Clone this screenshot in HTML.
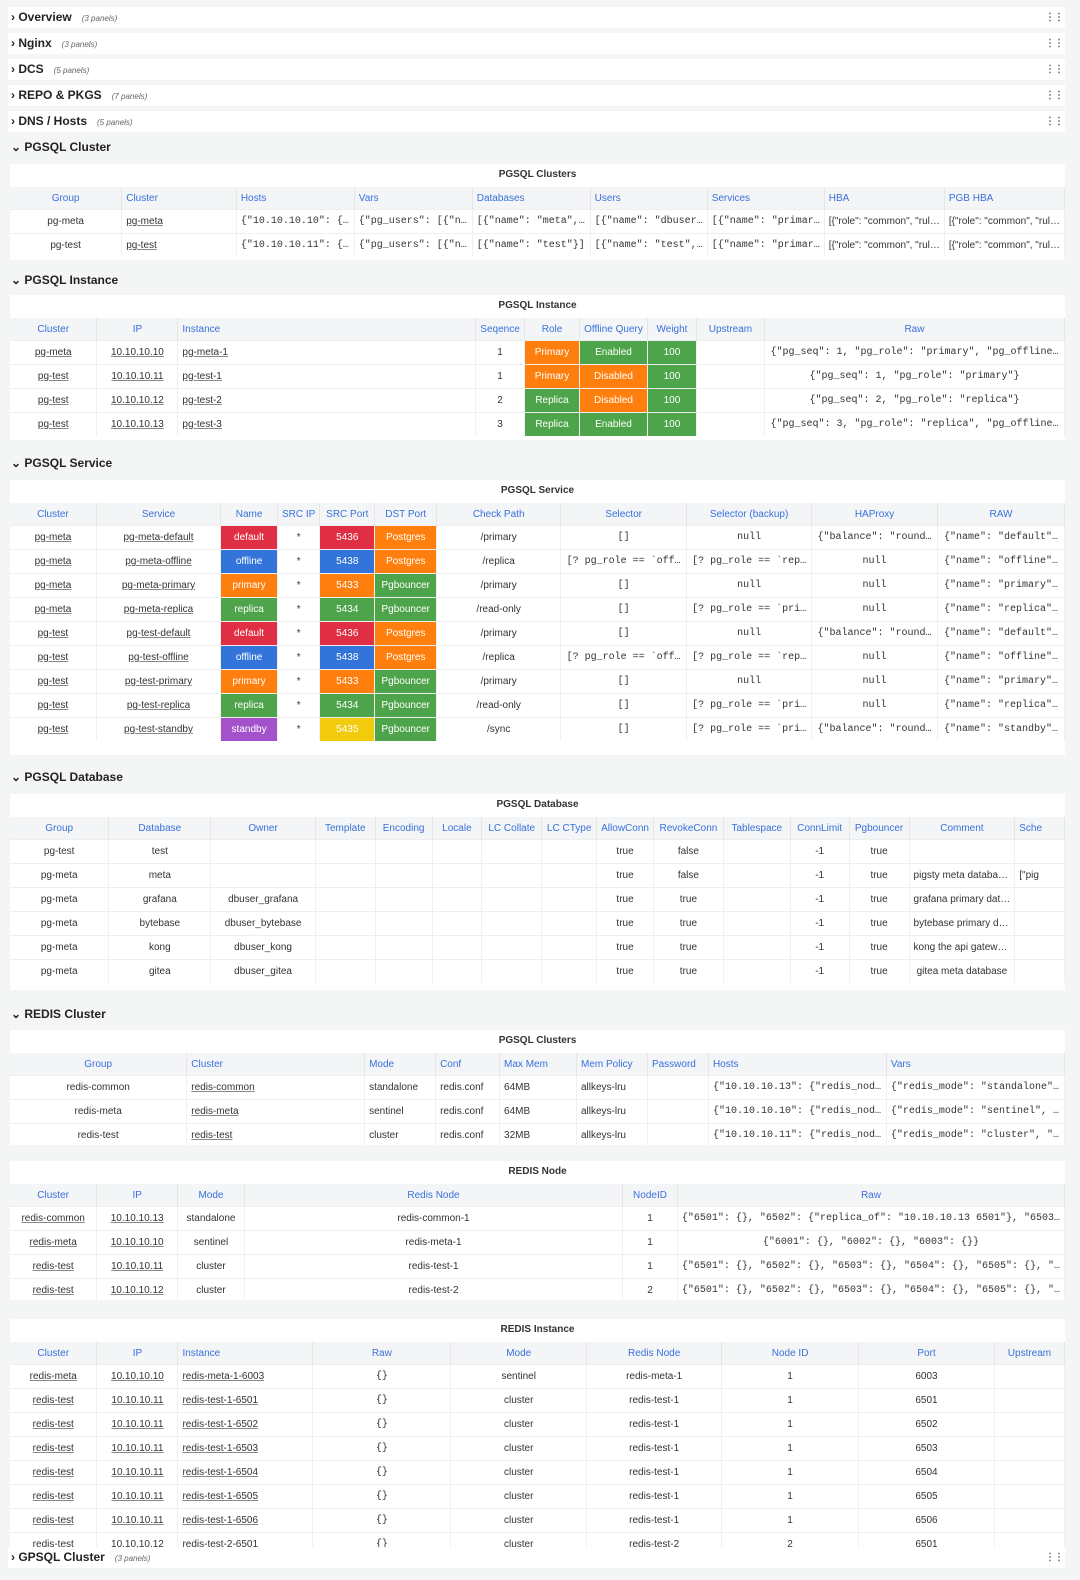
<!DOCTYPE html><html><head><meta charset="utf-8"><style>
body{margin:0;width:1080px;height:1580px;background:#f4f5f5;font-family:"Liberation Sans",sans-serif;position:relative;overflow:hidden;color:#222}
.r{position:absolute;left:8px;width:1057px;height:21px;background:#fff;font-weight:bold;font-size:12px;line-height:21px;padding-left:3px;box-sizing:border-box}
.r.o{background:none}
.r i{font-weight:normal;font-size:8px;color:#666;margin-left:10px}
.r b{position:absolute;right:2px;top:0;font-size:10px;color:#666;letter-spacing:-1px}
.p{position:absolute;left:10px;width:1055px;background:#fff;overflow:hidden}
.p .ti{height:23px;line-height:22px;text-align:center;font-size:10px;font-weight:bold;color:#333}
table{border-collapse:collapse;table-layout:fixed;font-size:10px;color:#333}
th{height:22px;color:#3871dc;font-weight:normal;background:#f4f5f7;border-right:1px solid #e6e6e6;white-space:nowrap;overflow:hidden;padding:0 4px}
td{height:23px;border-top:1px solid #eee;border-right:1px solid #f0f0f0;white-space:nowrap;overflow:hidden;text-overflow:ellipsis;text-align:center;padding:0 4px}
.l{text-align:left}.m{font-family:"Liberation Mono",monospace}
.u{text-decoration:underline;text-decoration-color:#888}
.R{background:#e02f44;color:#fff}.O{background:#ff7f0e;color:#fff}.B{background:#3274d9;color:#fff}.G{background:#4ea44a;color:#fff}.P{background:#a352cc;color:#fff}.Y{background:#f2cc0c;color:#fff}
</style></head><body>
<div class="r" style="top:7px">› Overview<i>(3 panels)</i><b>⋮⋮</b></div>
<div class="r" style="top:33px">› Nginx<i>(3 panels)</i><b>⋮⋮</b></div>
<div class="r" style="top:59px">› DCS<i>(5 panels)</i><b>⋮⋮</b></div>
<div class="r" style="top:85px">› REPO &amp; PKGS<i>(7 panels)</i><b>⋮⋮</b></div>
<div class="r" style="top:111px">› DNS / Hosts<i>(5 panels)</i><b>⋮⋮</b></div>
<div class="r o" style="top:137px">⌄ PGSQL Cluster</div>

<div class="p" style="top:164px;height:96px"><div class="ti">PGSQL Clusters</div>
<table><colgroup><col style="width:115px"><col style="width:118px"><col style="width:118px"><col style="width:118px"><col style="width:118px"><col style="width:117px"><col style="width:116px"><col style="width:118px"><col style="width:117px"></colgroup>
<tr><th>Group</th><th class="l">Cluster</th><th class="l">Hosts</th><th class="l">Vars</th><th class="l">Databases</th><th class="l">Users</th><th class="l">Services</th><th class="l">HBA</th><th class="l">PGB HBA</th></tr>
<tr><td>pg-meta</td><td class="l u">pg-meta</td><td class="l m">{"10.10.10.10": {…</td><td class="l m">{"pg_users": [{"n…</td><td class="l m">[{"name": "meta",…</td><td class="l m">[{"name": "dbuser…</td><td class="l m">[{"name": "primar…</td><td class="l">[{"role": "common", "rul…</td><td class="l">[{"role": "common", "rul…</td></tr>
<tr><td>pg-test</td><td class="l u">pg-test</td><td class="l m">{"10.10.10.11": {…</td><td class="l m">{"pg_users": [{"n…</td><td class="l m">[{"name": "test"}]</td><td class="l m">[{"name": "test",…</td><td class="l m">[{"name": "primar…</td><td class="l">[{"role": "common", "rul…</td><td class="l">[{"role": "common", "rul…</td></tr>
</table></div>

<div class="r o" style="top:270px">⌄ PGSQL Instance</div>
<div class="p" style="top:295px;height:145px"><div class="ti">PGSQL Instance</div>
<table><colgroup><col style="width:87px"><col style="width:81px"><col style="width:298px"><col style="width:49px"><col style="width:55px"><col style="width:68px"><col style="width:49px"><col style="width:68px"><col style="width:300px"></colgroup>
<tr><th>Cluster</th><th>IP</th><th class="l">Instance</th><th>Seqence</th><th>Role</th><th>Offline Query</th><th>Weight</th><th>Upstream</th><th>Raw</th></tr>
<tr><td class="u">pg-meta</td><td class="u">10.10.10.10</td><td class="l u">pg-meta-1</td><td>1</td><td class="O">Primary</td><td class="G">Enabled</td><td class="G">100</td><td></td><td class="m">{"pg_seq": 1, "pg_role": "primary", "pg_offline…</td></tr>
<tr><td class="u">pg-test</td><td class="u">10.10.10.11</td><td class="l u">pg-test-1</td><td>1</td><td class="O">Primary</td><td class="O">Disabled</td><td class="G">100</td><td></td><td class="m">{"pg_seq": 1, "pg_role": "primary"}</td></tr>
<tr><td class="u">pg-test</td><td class="u">10.10.10.12</td><td class="l u">pg-test-2</td><td>2</td><td class="G">Replica</td><td class="O">Disabled</td><td class="G">100</td><td></td><td class="m">{"pg_seq": 2, "pg_role": "replica"}</td></tr>
<tr><td class="u">pg-test</td><td class="u">10.10.10.13</td><td class="l u">pg-test-3</td><td>3</td><td class="G">Replica</td><td class="G">Enabled</td><td class="G">100</td><td></td><td class="m">{"pg_seq": 3, "pg_role": "replica", "pg_offline…</td></tr>
</table></div>

<div class="r o" style="top:453px">⌄ PGSQL Service</div>
<div class="p" style="top:480px;height:275px"><div class="ti">PGSQL Service</div>
<table><colgroup><col style="width:87px"><col style="width:125px"><col style="width:57px"><col style="width:40px"><col style="width:55px"><col style="width:62px"><col style="width:125px"><col style="width:126px"><col style="width:125px"><col style="width:126px"><col style="width:127px"></colgroup>
<tr><th>Cluster</th><th>Service</th><th>Name</th><th>SRC IP</th><th>SRC Port</th><th>DST Port</th><th>Check Path</th><th>Selector</th><th>Selector (backup)</th><th>HAProxy</th><th>RAW</th></tr>
<tr><td class="u">pg-meta</td><td class="u">pg-meta-default</td><td class="R">default</td><td>*</td><td class="R">5436</td><td class="O">Postgres</td><td>/primary</td><td class="m">[]</td><td class="m">null</td><td class="m">{"balance": "round…</td><td class="m">{"name": "default"…</td></tr>
<tr><td class="u">pg-meta</td><td class="u">pg-meta-offline</td><td class="B">offline</td><td>*</td><td class="B">5438</td><td class="O">Postgres</td><td>/replica</td><td class="m">[? pg_role == `off…</td><td class="m">[? pg_role == `rep…</td><td class="m">null</td><td class="m">{"name": "offline"…</td></tr>
<tr><td class="u">pg-meta</td><td class="u">pg-meta-primary</td><td class="O">primary</td><td>*</td><td class="O">5433</td><td class="G">Pgbouncer</td><td>/primary</td><td class="m">[]</td><td class="m">null</td><td class="m">null</td><td class="m">{"name": "primary"…</td></tr>
<tr><td class="u">pg-meta</td><td class="u">pg-meta-replica</td><td class="G">replica</td><td>*</td><td class="G">5434</td><td class="G">Pgbouncer</td><td>/read-only</td><td class="m">[]</td><td class="m">[? pg_role == `pri…</td><td class="m">null</td><td class="m">{"name": "replica"…</td></tr>
<tr><td class="u">pg-test</td><td class="u">pg-test-default</td><td class="R">default</td><td>*</td><td class="R">5436</td><td class="O">Postgres</td><td>/primary</td><td class="m">[]</td><td class="m">null</td><td class="m">{"balance": "round…</td><td class="m">{"name": "default"…</td></tr>
<tr><td class="u">pg-test</td><td class="u">pg-test-offline</td><td class="B">offline</td><td>*</td><td class="B">5438</td><td class="O">Postgres</td><td>/replica</td><td class="m">[? pg_role == `off…</td><td class="m">[? pg_role == `rep…</td><td class="m">null</td><td class="m">{"name": "offline"…</td></tr>
<tr><td class="u">pg-test</td><td class="u">pg-test-primary</td><td class="O">primary</td><td>*</td><td class="O">5433</td><td class="G">Pgbouncer</td><td>/primary</td><td class="m">[]</td><td class="m">null</td><td class="m">null</td><td class="m">{"name": "primary"…</td></tr>
<tr><td class="u">pg-test</td><td class="u">pg-test-replica</td><td class="G">replica</td><td>*</td><td class="G">5434</td><td class="G">Pgbouncer</td><td>/read-only</td><td class="m">[]</td><td class="m">[? pg_role == `pri…</td><td class="m">null</td><td class="m">{"name": "replica"…</td></tr>
<tr><td class="u">pg-test</td><td class="u">pg-test-standby</td><td class="P">standby</td><td>*</td><td class="Y">5435</td><td class="G">Pgbouncer</td><td>/sync</td><td class="m">[]</td><td class="m">[? pg_role == `pri…</td><td class="m">{"balance": "round…</td><td class="m">{"name": "standby"…</td></tr>
</table></div>

<div class="r o" style="top:767px">⌄ PGSQL Database</div>
<div class="p" style="top:794px;height:196px"><div class="ti">PGSQL Database</div>
<table><colgroup><col style="width:100px"><col style="width:103px"><col style="width:105px"><col style="width:60px"><col style="width:57px"><col style="width:50px"><col style="width:60px"><col style="width:55px"><col style="width:56px"><col style="width:70px"><col style="width:67px"><col style="width:59px"><col style="width:60px"><col style="width:103px"><col style="width:50px"></colgroup>
<tr><th>Group</th><th>Database</th><th>Owner</th><th>Template</th><th>Encoding</th><th>Locale</th><th>LC Collate</th><th>LC CType</th><th>AllowConn</th><th>RevokeConn</th><th>Tablespace</th><th>ConnLimit</th><th>Pgbouncer</th><th>Comment</th><th class="l">Sche</th></tr>
<tr><td>pg-test</td><td>test</td><td></td><td></td><td></td><td></td><td></td><td></td><td>true</td><td>false</td><td></td><td>-1</td><td>true</td><td></td><td></td></tr>
<tr><td>pg-meta</td><td>meta</td><td></td><td></td><td></td><td></td><td></td><td></td><td>true</td><td>false</td><td></td><td>-1</td><td>true</td><td class="l">pigsty meta databa…</td><td class="l">["pig</td></tr>
<tr><td>pg-meta</td><td>grafana</td><td>dbuser_grafana</td><td></td><td></td><td></td><td></td><td></td><td>true</td><td>true</td><td></td><td>-1</td><td>true</td><td class="l">grafana primary dat…</td><td></td></tr>
<tr><td>pg-meta</td><td>bytebase</td><td>dbuser_bytebase</td><td></td><td></td><td></td><td></td><td></td><td>true</td><td>true</td><td></td><td>-1</td><td>true</td><td class="l">bytebase primary d…</td><td></td></tr>
<tr><td>pg-meta</td><td>kong</td><td>dbuser_kong</td><td></td><td></td><td></td><td></td><td></td><td>true</td><td>true</td><td></td><td>-1</td><td>true</td><td class="l">kong the api gatew…</td><td></td></tr>
<tr><td>pg-meta</td><td>gitea</td><td>dbuser_gitea</td><td></td><td></td><td></td><td></td><td></td><td>true</td><td>true</td><td></td><td>-1</td><td>true</td><td>gitea meta database</td><td></td></tr>
</table></div>

<div class="r o" style="top:1004px">⌄ REDIS Cluster</div>
<div class="p" style="top:1030px;height:115px"><div class="ti">PGSQL Clusters</div>
<table><colgroup><col style="width:177px"><col style="width:178px"><col style="width:71px"><col style="width:64px"><col style="width:77px"><col style="width:71px"><col style="width:61px"><col style="width:178px"><col style="width:178px"></colgroup>
<tr><th>Group</th><th class="l">Cluster</th><th class="l">Mode</th><th class="l">Conf</th><th class="l">Max Mem</th><th class="l">Mem Policy</th><th class="l">Password</th><th class="l">Hosts</th><th class="l">Vars</th></tr>
<tr><td>redis-common</td><td class="l u">redis-common</td><td class="l">standalone</td><td class="l">redis.conf</td><td class="l">64MB</td><td class="l">allkeys-lru</td><td></td><td class="l m">{"10.10.10.13": {"redis_nod…</td><td class="l m">{"redis_mode": "standalone"…</td></tr>
<tr><td>redis-meta</td><td class="l u">redis-meta</td><td class="l">sentinel</td><td class="l">redis.conf</td><td class="l">64MB</td><td class="l">allkeys-lru</td><td></td><td class="l m">{"10.10.10.10": {"redis_nod…</td><td class="l m">{"redis_mode": "sentinel", …</td></tr>
<tr><td>redis-test</td><td class="l u">redis-test</td><td class="l">cluster</td><td class="l">redis.conf</td><td class="l">32MB</td><td class="l">allkeys-lru</td><td></td><td class="l m">{"10.10.10.11": {"redis_nod…</td><td class="l m">{"redis_mode": "cluster", "…</td></tr>
</table></div>

<div class="p" style="top:1161px;height:139px"><div class="ti">REDIS Node</div>
<table><colgroup><col style="width:87px"><col style="width:81px"><col style="width:67px"><col style="width:382px"><col style="width:55px"><col style="width:383px"></colgroup>
<tr><th>Cluster</th><th>IP</th><th>Mode</th><th>Redis Node</th><th>NodeID</th><th>Raw</th></tr>
<tr><td class="u">redis-common</td><td class="u">10.10.10.13</td><td>standalone</td><td>redis-common-1</td><td>1</td><td class="m">{"6501": {}, "6502": {"replica_of": "10.10.10.13 6501"}, "6503…</td></tr>
<tr><td class="u">redis-meta</td><td class="u">10.10.10.10</td><td>sentinel</td><td>redis-meta-1</td><td>1</td><td class="m">{"6001": {}, "6002": {}, "6003": {}}</td></tr>
<tr><td class="u">redis-test</td><td class="u">10.10.10.11</td><td>cluster</td><td>redis-test-1</td><td>1</td><td class="m">{"6501": {}, "6502": {}, "6503": {}, "6504": {}, "6505": {}, "…</td></tr>
<tr><td class="u">redis-test</td><td class="u">10.10.10.12</td><td>cluster</td><td>redis-test-2</td><td>2</td><td class="m">{"6501": {}, "6502": {}, "6503": {}, "6504": {}, "6505": {}, "…</td></tr>
</table></div>

<div class="p" style="top:1319px;height:229px"><div class="ti">REDIS Instance</div>
<table><colgroup><col style="width:87px"><col style="width:81px"><col style="width:135px"><col style="width:138px"><col style="width:136px"><col style="width:135px"><col style="width:137px"><col style="width:136px"><col style="width:70px"></colgroup>
<tr><th>Cluster</th><th>IP</th><th class="l">Instance</th><th>Raw</th><th>Mode</th><th>Redis Node</th><th>Node ID</th><th>Port</th><th>Upstream</th></tr>
<tr><td class="u">redis-meta</td><td class="u">10.10.10.10</td><td class="l u">redis-meta-1-6003</td><td class="m">{}</td><td>sentinel</td><td>redis-meta-1</td><td>1</td><td>6003</td><td></td></tr>
<tr><td class="u">redis-test</td><td class="u">10.10.10.11</td><td class="l u">redis-test-1-6501</td><td class="m">{}</td><td>cluster</td><td>redis-test-1</td><td>1</td><td>6501</td><td></td></tr>
<tr><td class="u">redis-test</td><td class="u">10.10.10.11</td><td class="l u">redis-test-1-6502</td><td class="m">{}</td><td>cluster</td><td>redis-test-1</td><td>1</td><td>6502</td><td></td></tr>
<tr><td class="u">redis-test</td><td class="u">10.10.10.11</td><td class="l u">redis-test-1-6503</td><td class="m">{}</td><td>cluster</td><td>redis-test-1</td><td>1</td><td>6503</td><td></td></tr>
<tr><td class="u">redis-test</td><td class="u">10.10.10.11</td><td class="l u">redis-test-1-6504</td><td class="m">{}</td><td>cluster</td><td>redis-test-1</td><td>1</td><td>6504</td><td></td></tr>
<tr><td class="u">redis-test</td><td class="u">10.10.10.11</td><td class="l u">redis-test-1-6505</td><td class="m">{}</td><td>cluster</td><td>redis-test-1</td><td>1</td><td>6505</td><td></td></tr>
<tr><td class="u">redis-test</td><td class="u">10.10.10.11</td><td class="l u">redis-test-1-6506</td><td class="m">{}</td><td>cluster</td><td>redis-test-1</td><td>1</td><td>6506</td><td></td></tr>
<tr><td>redis-test</td><td>10.10.10.12</td><td class="l">redis-test-2-6501</td><td class="m">{}</td><td>cluster</td><td>redis-test-2</td><td>2</td><td>6501</td><td></td></tr>
</table></div>

<div class="r" style="top:1547px">› GPSQL Cluster<i>(3 panels)</i><b>⋮⋮</b></div>
</body></html>
